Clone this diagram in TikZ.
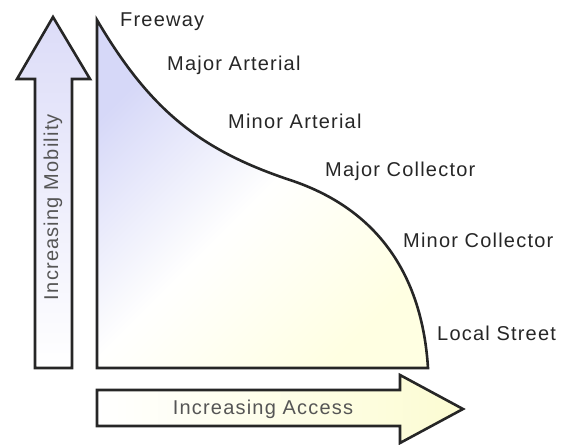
\documentclass[tikz,border=0pt]{standalone}
\usepackage{fontspec}
\setmainfont{Liberation Sans}
\newfontfamily\labelfont[LetterSpace=6]{Liberation Sans}
\definecolor{mobblue}{HTML}{DCDCF8}
\definecolor{accyellow}{HTML}{FCFCD2}
\definecolor{areablue}{HTML}{D6D8F8}
\definecolor{areayellow}{HTML}{FFFFE2}
\definecolor{edgegray}{HTML}{262626}
\definecolor{textgray}{HTML}{555555}
\tikzset{
	classlabel/.style={anchor=west, inner sep=0pt, text=black!85,
		font=\labelfont\fontsize{20}{22}\selectfont},
	arrowtext/.style={inner sep=0pt, text=textgray,
		font=\labelfont\fontsize{20}{22}\selectfont},
	outline/.style={draw=edgegray, line width=2.6pt, line join=miter}
}
\begin{document}
\begin{tikzpicture}[x=1pt, y=-1pt]
	\useasboundingbox (0,0) rectangle (571,445);
	%绘制纵向箭头
	\shade [outline, top color=mobblue, bottom color=white]
		(35,368) -- (35,79) -- (17,79) -- (53,17) -- (90,79) -- (72,79) -- (72,368) -- cycle;
	\node [arrowtext, rotate=90] (mobility) at (53,207) {Increasing Mobility};
	%绘制横向箭头
	\shade [outline, left color=white, right color=accyellow]
		(97,390) -- (400,390) -- (400,375) -- (463,409) -- (400,443) -- (400,426) -- (97,426) -- cycle;
	\node [arrowtext] (access) at (263,409) {Increasing Access};
	%绘制曲线下的区域
	\shade [outline, top color=areablue, bottom color=areayellow,
		middle color=white!97!areayellow, shading angle=45]
		(97,368) -- (97,20) .. controls (150,110) and (200,150) .. (290,180)
		.. controls (375,208) and (422,272) .. (428,368) -- cycle;
	%标注道路等级
	\node [classlabel] (freeway) at (120,22) {Freeway};
	\node [classlabel] (majart) at (167,65) {Major Arterial};
	\node [classlabel] (minart) at (228,121) {Minor Arterial};
	\node [classlabel] (majcol) at (325,171) {Major Collector};
	\node [classlabel] (mincol) at (403,240) {Minor Collector};
	\node [classlabel] (local) at (437,333) {Local Street};
\end{tikzpicture}
\end{document}
